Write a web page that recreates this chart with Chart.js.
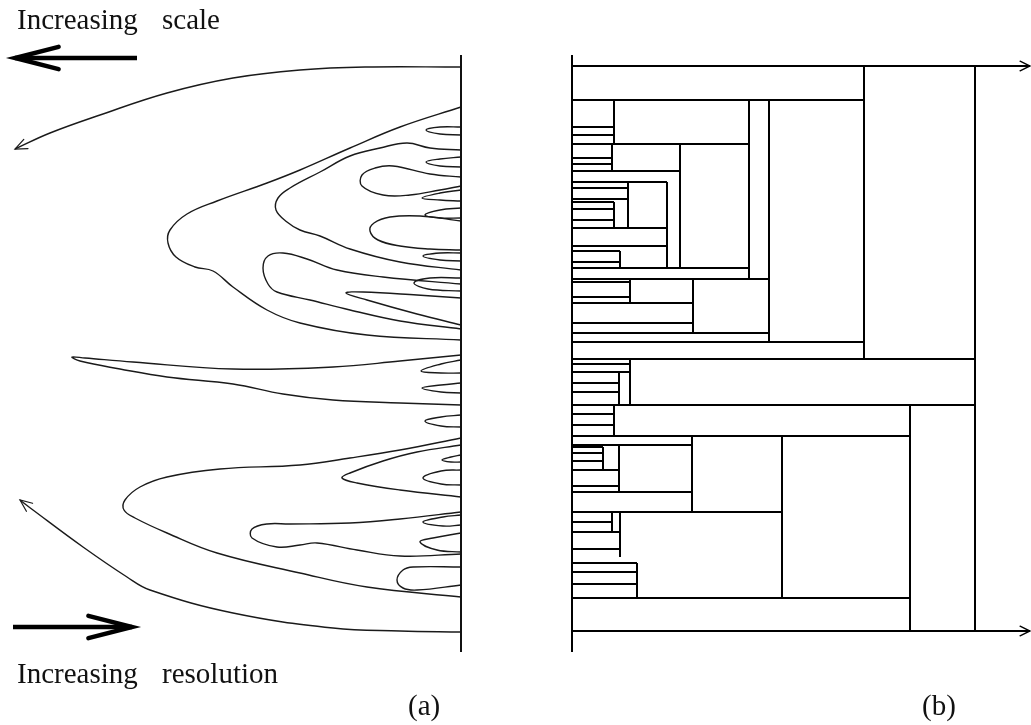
<!DOCTYPE html>
<html>
<head>
<meta charset="utf-8">
<script src="https://cdn.jsdelivr.net/npm/chart.js@4.4.1/dist/chart.umd.min.js"></script>
<style>
  body { margin: 0; background: #fff; }
  #page { position: relative; width: 1031px; height: 725px; overflow: hidden; background: #fff; }
  #wrapA { position: absolute; left: 0; top: 0; }
  #wrapB { position: absolute; left: 520px; top: 0; }
  .lbl { position: absolute; font-family: "Liberation Serif", "DejaVu Serif", serif; font-size: 29px;
         line-height: 1; color: #111; white-space: nowrap; word-spacing: 17px; }
</style>
</head>
<body>
<div id="page">
  <div id="wrapA"><canvas id="chartA" width="520" height="725"></canvas></div>
  <div id="wrapB"><canvas id="chartB" width="511" height="725"></canvas></div>
  <div class="lbl" style="left:17px; top:5px;">Increasing scale</div>
  <div class="lbl" style="left:17px; top:659px;">Increasing resolution</div>
  <div class="lbl" style="left:408px; top:691px; word-spacing:0;">(a)</div>
  <div class="lbl" style="left:922px; top:691px; word-spacing:0;">(b)</div>
</div>
<script>
// (a) maxima lines as [scale, position]; scale grows to the left of the axis
const lineTop = [[0,1],[96,1],[161,4],[228,12],[294,27],[361,49],[411,67],[446,83]];
const loopOuter = [[0,41],[61,61],[111,82],[161,104],[194,117],[244,135],[274,148],[291,164],[293,177],[285,191],[266,201],[248,205],[228,221],[194,244],[161,257],[94,269],[0,274]];
const loopInner = [[0,84],[31,82],[54,77],[81,82],[111,90],[141,106],[171,122],[183,132],[185,144],[174,156],[161,164],[141,170],[111,183],[61,196],[0,204]];
const loopB = [[0,111],[31,108],[68,100],[86,102],[99,109],[99,120],[78,129],[51,129],[21,124],[0,120]];
const loopE = [[0,155],[41,150],[71,151],[87,157],[91,165],[83,174],[61,180],[31,183],[0,184]];
const loopF = [[0,218],[78,211],[124,204],[154,193],[178,187],[193,190],[198,202],[193,218],[184,226],[151,234],[111,244],[61,255],[0,263]];
const loopG = [[0,232],[44,229],[98,226],[115,227],[94,234],[44,248],[0,259]];
const loopLong = [[0,289],[61,295],[128,301],[228,303],[328,296],[376,292],[389,291],[381,295],[341,303],[294,311],[228,318],[178,328],[128,334],[61,337],[0,339]];
const loopLow = [[0,372],[61,384],[111,392],[161,399],[241,403],[294,411],[321,421],[336,434],[337,444],[326,452],[294,467],[244,487],[161,507],[94,521],[0,531]];
const loopL = [[0,379],[44,386],[78,395],[111,407],[119,412],[104,417],[61,424],[0,431]];
const loopN = [[0,446],[61,453],[111,457],[171,458],[194,458],[209,463],[209,472],[184,481],[161,479],[144,477],[104,484],[61,490],[0,488]];
const loopO = [[0,501],[48,501],[58,504],[64,514],[58,522],[44,524],[0,519]];
const lineBottom = [[0,566],[61,565],[128,562],[228,547],[311,524],[334,511],[378,481],[428,444],[441,434]];
const smallLoops = [
  [[0,61],[21,61],[35,64],[21,68],[0,69]],
  [[0,91],[21,93],[35,96],[21,100],[0,101]],
  [[0,124],[21,127],[39,132],[21,134],[0,135]],
  [[0,142],[21,144],[36,149],[21,152],[0,152]],
  [[0,187],[21,187],[38,190],[21,194],[0,195]],
  [[0,212],[31,212],[47,217],[33,223],[0,225]],
  [[0,294],[20,298],[40,305],[20,307],[0,307]],
  [[0,317],[20,319],[39,322],[20,326],[0,327]],
  [[0,349],[20,351],[36,355],[20,360],[0,361]],
  [[0,389],[10,391],[19,394],[10,396],[0,396]],
  [[0,404],[20,405],[38,412],[20,418],[0,419]],
  [[0,449],[18,451],[38,456],[18,460],[0,459]],
  [[0,467],[28,472],[41,476],[24,484],[0,486]]
];
const arrowScaleUp = [[324,-8],[446,-8]];
const arrowResolution = [[448,561],[329,561]];

// (b) tree: leaves run from the axis to the scale where they merge
const leafPos = [34,61,69,78,92,98,105,116,122,133,136,143,154,162,180,185,196,202,213,216,231,237,257,267,276,293,298,306,317,326,339,348,359,370,379,381,387,395,404,420,426,446,456,466,483,497,506,518,532];
const leafEnd = [292,42,42,177,40,40,108,95,56,56,42,42,42,95,95,48,48,176,197,58,58,121,121,197,292,403,58,58,47,47,403,42,42,338,120,31,31,31,47,47,120,210,40,48,48,65,65,65,338];
const joinScale = [292,403,42,40,108,177,197,95,56,42,48,58,121,58,47,42,338,120,210,31,47,40,48,65];
const joinFrom  = [0,0,34,78,78,34,34,116,116,136,185,213,213,293,306,339,339,370,370,381,379,446,446,497];
const joinTo    = [293,565,78,105,202,213,276,202,162,162,202,237,267,339,339,370,565,446,532,404,426,466,491,532];
const openEnds = [0, 565];
const scaleMax = 458;

const toXY = pts => pts.map(([s, p]) => ({ x: s, y: p }));

const arrowHeads = {
  id: 'arrowHeads',
  afterDatasetsDraw(chart) {
    const ctx = chart.ctx;
    chart.data.datasets.forEach((ds, i) => {
      if (!ds.head) return;
      const pts = chart.getDatasetMeta(i).data;
      const a = pts[pts.length - 2], b = pts[pts.length - 1];
      const ang = Math.atan2(b.y - a.y, b.x - a.x);
      const h = ds.head;
      ctx.save();
      ctx.strokeStyle = ds.borderColor;
      ctx.lineWidth = h.width;
      ctx.lineCap = 'round';
      ctx.beginPath();
      ctx.moveTo(b.x - h.len * Math.cos(ang - h.spread), b.y - h.len * Math.sin(ang - h.spread));
      ctx.lineTo(b.x, b.y);
      ctx.lineTo(b.x - h.len * Math.cos(ang + h.spread), b.y - h.len * Math.sin(ang + h.spread));
      ctx.stroke();
      ctx.restore();
    });
  }
};

function curve(pts, extra) {
  return Object.assign({
    data: toXY(pts), borderColor: '#1a1a1a', borderWidth: 1.4, pointRadius: 0,
    tension: 0.4, clip: false, fill: false
  }, extra || {});
}

function baseOptions(pad, xmax, reverseX) {
  return {
    responsive: false, animation: false, events: [],
    layout: { padding: pad },
    plugins: { legend: { display: false }, tooltip: { enabled: false } },
    scales: {
      x: { type: 'linear', display: false, min: 0, max: xmax, reverse: reverseX },
      y: { type: 'linear', display: false, min: 0, max: 565, reverse: true }
    }
  };
}

// panel (a)
const dsA = [
  curve([[0,-11],[0,586]], { borderWidth: 2, tension: 0, borderColor: '#111' }),
  curve(lineTop, { head: { len: 13, spread: 0.4, width: 1.2 } }),
  curve(lineBottom, { head: { len: 13, spread: 0.4, width: 1.2 } }),
  curve(loopOuter), curve(loopInner), curve(loopB), curve(loopE), curve(loopF), curve(loopG),
  curve(loopLong), curve(loopLow), curve(loopL), curve(loopN), curve(loopO),
  ...smallLoops.map(l => curve(l)),
  curve(arrowScaleUp, { borderWidth: 4.5, tension: 0, borderColor: '#000', head: { len: 45, spread: 0.25, width: 4.5 } }),
  curve(arrowResolution, { borderWidth: 4.5, tension: 0, borderColor: '#000', head: { len: 45, spread: 0.25, width: 4.5 } })
];
new Chart(document.getElementById('chartA'), {
  type: 'line',
  data: { datasets: dsA },
  options: baseOptions({ left: 11, right: 59, top: 66, bottom: 94 }, 450, true),
  plugins: [arrowHeads]
});

// panel (b)
const hData = [];
leafPos.forEach((p, i) => hData.push({ x: 0, y: p }, { x: leafEnd[i], y: p }, { x: leafEnd[i], y: null }));
const vData = [];
joinScale.forEach((s, i) => vData.push({ x: s, y: joinFrom[i] }, { x: s, y: joinTo[i] }, { x: s, y: null }));
const lineB = { borderColor: '#000', borderWidth: 2, pointRadius: 0, tension: 0, clip: false, fill: false, spanGaps: false };
const dsB = [
  Object.assign({}, lineB, { data: [{ x: 0, y: -11 }, { x: 0, y: 586 }] }),
  Object.assign({}, lineB, { data: hData }),
  Object.assign({}, lineB, { data: vData }),
  ...openEnds.map(p => Object.assign({}, lineB, {
    data: [{ x: 0, y: p }, { x: scaleMax, y: p }], head: { len: 11, spread: 0.45, width: 1.4 }
  }))
];
new Chart(document.getElementById('chartB'), {
  type: 'line',
  data: { datasets: dsB },
  options: baseOptions({ left: 52, right: 1, top: 66, bottom: 94 }, scaleMax, false),
  plugins: [arrowHeads]
});
</script>
</body>
</html>
